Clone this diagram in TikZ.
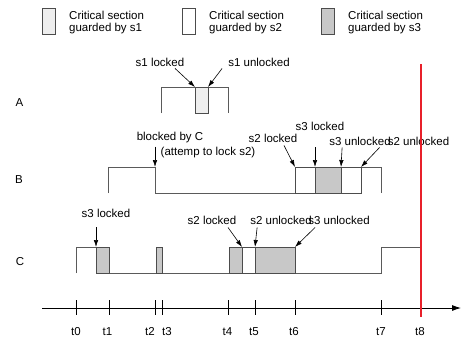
\documentclass[tikz,border=0pt]{standalone}
\usepackage{fontspec}
\setmainfont{Liberation Sans}
\usetikzlibrary{
  arrows.meta,
  positioning,
  calc
}
\definecolor{csWave}{HTML}{5A5A5A}
\definecolor{csLight}{HTML}{EEEEEE}
\definecolor{csDark}{HTML}{C8C8C8}
\definecolor{csMark}{HTML}{E8202A}

\tikzset{
  lbl/.style={font=\fontsize{11.5}{12}\selectfont, inner sep=0pt},
  wave/.style={draw=csWave, line width=0.9pt},
  sect/.style={draw=black!70, line width=0.9pt},
  ptr/.style={-{Latex[length=7pt,width=4.5pt]}, line width=0.6pt},
}

\begin{document}
\begin{tikzpicture}[x=1pt, y=-1pt]
  \useasboundingbox (0,0) rectangle (462,341);

  % legend
  \foreach \bx/\col/\s in {42/csLight/s1, 182/white/s2, 321/csDark/s3}{
    \draw[sect, fill=\col] (\bx,8) rectangle (\bx+13,34);
    \node[lbl, align=left, anchor=north west] (key-\s) at (\bx+27,10.8)
      {Critical section\\guarded by \s};
  }

  % row names
  \node[lbl] (rowA) at (19.5,103) {A};
  \node[lbl] (rowB) at (19,180) {B};
  \node[lbl] (rowC) at (20,262) {C};

  % task A
  \draw[wave] (161,113) |- (228,87) -- (228,113);
  \draw[sect, fill=csLight] (195,87) rectangle (208,113);
  \coordinate (A-s1on) at (195,87);
  \coordinate (A-s1off) at (208,87);

  % task B
  \draw[wave] (108,193) |- (155,167) -- (155,193) -- (295,193);
  \draw[wave] (361,167) -| (381,193);
  \draw[sect, fill=white] (295,167) rectangle (361,193);
  \draw[sect, fill=csDark] (315,167) rectangle (341,193);
  \coordinate (B-block) at (155,167);
  \coordinate (B-s2on) at (295,167);
  \coordinate (B-s3on) at (315,167);
  \coordinate (B-s3off) at (341,167);
  \coordinate (B-s2off) at (361,167);

  % task C
  \draw[wave] (76,273) |- (96,247);
  \draw[wave] (96,273) -- (381,273) |- (421,247);
  \foreach \xa/\xb/\col in {96/109/csDark, 156/162/csDark, 229/242/csDark,
                            242/255/white, 255/295/csDark}{
    \draw[sect, fill=\col] (\xa,247) rectangle (\xb,273);
  }
  \coordinate (C-s3on) at (96,247);
  \coordinate (C-s2on) at (242,247);
  \coordinate (C-s2off) at (255,247);
  \coordinate (C-s3off) at (295,247);

  % labels and pointers
  \node[lbl] (A-lk) at (160,62) {s1 locked};
  \node[lbl] (A-ul) at (259,62) {s1 unlocked};
  \draw[ptr] ([xshift=15pt,yshift=-2pt]A-lk.south) -- (A-s1on);
  \draw[ptr] ([xshift=-6pt,yshift=-2pt]A-ul.south west) -- (A-s1off);

  \node[lbl] (B-bl) at (170,138) {blocked by C};
  \node[lbl] (B-why) at (208,153) {(attemp to lock s2)};
  \node[lbl] (B-lk2) at (273,138) {s2 locked};
  \node[lbl] (B-lk3) at (320,126) {s3 locked};
  \node[lbl] (B-ul3) at (360,141) {s3 unlocked};
  \node[lbl] (B-ul2) at (418.5,141) {s2 unlocked};
  \draw[ptr] ([xshift=-15pt,yshift=-3pt]B-bl.south) -- (B-block);
  \draw[ptr] ([xshift=11pt,yshift=-3pt]B-lk2.south) -- (B-s2on);
  \draw[ptr] ([xshift=-5pt,yshift=-17pt]B-lk3.south) -- (B-s3on);
  \draw[ptr] ([xshift=13pt,yshift=-2pt]B-ul3.south west) -- (B-s3off);
  \draw[ptr] ([xshift=-8pt,yshift=-2pt]B-ul2.south west) -- (B-s2off);

  \node[lbl] (C-lk3) at (106,213) {s3 locked};
  \node[lbl] (C-lk2) at (212,220) {s2 locked};
  \node[lbl] (C-ul2) at (281,220) {s2 unlocked};
  \node[lbl] (C-ul3) at (339,220) {s3 unlocked};
  \draw[ptr] ([xshift=-10pt,yshift=-10pt]C-lk3.south) -- (C-s3on);
  \draw[ptr] ([xshift=16pt,yshift=-3pt]C-lk2.south) -- (C-s2on);
  \draw[ptr] ([xshift=7pt,yshift=-3pt]C-ul2.south west) -- (C-s2off);
  \draw[ptr] ([xshift=7pt,yshift=-3pt]C-ul3.south west) -- (C-s3off);

  % time axis
  \coordinate (ax0) at (42,308);
  \coordinate (ax1) at (461,308);
  \draw[-{Latex[length=9pt,width=6pt]}, line width=0.8pt] (ax0) -- (ax1);
  \foreach \x/\lx/\t in {76/76/t0, 109/107.5/t1, 155/150/t2, 162/167/t3,
                         228/227.5/t4, 255/254/t5, 295/294/t6, 381/381/t7}{
    \draw[line width=0.8pt] (\x,300) -- (\x,315);
    \node[lbl] (\t) at (\lx,332) {\t};
  }
  \node[lbl] (t8) at (420,332) {t8};

  % now
  \coordinate (nowTop) at (421,64);
  \coordinate (nowBot) at (421,317);
  \draw[csMark, line width=2.6pt] (nowTop) -- (nowBot);
\end{tikzpicture}
\end{document}
